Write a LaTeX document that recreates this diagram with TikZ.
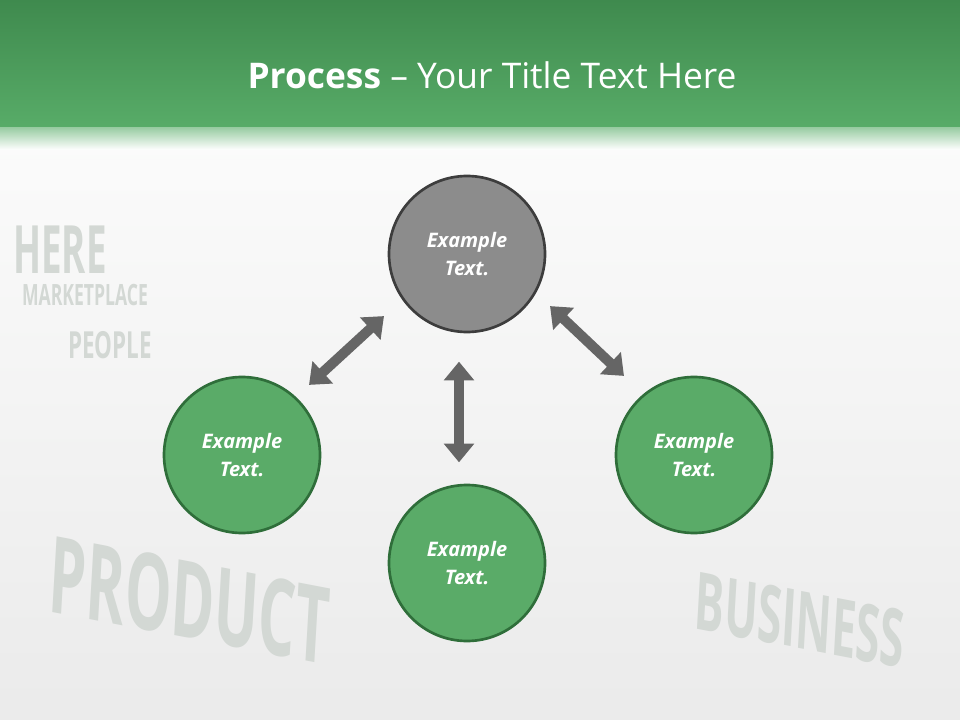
\documentclass[tikz,border=0pt]{standalone}
\usepackage{fontspec}
\setmainfont{Open Sans}
\usetikzlibrary{arrows.meta}
\definecolor{hdrtop}{HTML}{3F8A4E}
\definecolor{hdrbot}{HTML}{58AC68}
\definecolor{cgreen}{HTML}{5AAB68}
\definecolor{cgreenb}{HTML}{2F6E3A}
\definecolor{cgray}{HTML}{8C8C8C}
\definecolor{cgrayb}{HTML}{3D3D3D}
\definecolor{arr}{HTML}{656565}
\definecolor{word}{HTML}{D3D8D4}
\begin{document}
\begin{tikzpicture}[x=0.75pt,y=-0.75pt,
  circ/.style={circle,minimum size=117pt,line width=2pt,font=\bfseries\itshape\fontsize{15}{21}\selectfont,text=white,align=center},
  gcirc/.style={circ,fill=cgreen,draw=cgreenb},
  kcirc/.style={circ,fill=cgray,draw=cgrayb},
  fat/.style={arr,line width=7.5pt,{Triangle[width=22pt,length=14pt]}-{Triangle[width=22pt,length=14pt]},shorten <=-1pt,shorten >=-1pt},
  bw/.style={text=word,font=\bfseries,inner sep=0pt}]
\useasboundingbox (0,0) rectangle (960,720);
\shade[top color=white!97!green!2,bottom color=black!8] (0,0) rectangle (960,720);
% faint background words
\node[bw,font=\bfseries\fontsize{50}{50}\selectfont,xscale=0.55] at (60,250) {HERE};
\node[bw,font=\bfseries\fontsize{28}{28}\selectfont,xscale=0.6] at (110,345) {PEOPLE};
\node[bw,font=\bfseries\fontsize{22}{22}\selectfont,xscale=0.6] at (85,295) {MARKETPLACE};
\node[bw,font=\bfseries\fontsize{60}{60}\selectfont,xscale=0.55,rotate=-6] at (800,620) {BUSINESS};
\node[bw,font=\bfseries\fontsize{80}{80}\selectfont,xscale=0.55,rotate=-6] at (190,600) {PRODUCT};
% header
\shade[top color=hdrtop,bottom color=hdrbot] (0,0) rectangle (960,128);
\shade[top color=hdrbot!60!white,bottom color=white!0] (0,128) rectangle (960,150);
\node[text=white,font=\fontsize{26.5}{30}\selectfont] (title) at (492,75) {\textbf{Process} – Your Title Text Here};
% circles
\node[kcirc] (top) at (467,254) {Example\\Text.};
\node[gcirc] (left) at (242,455) {Example\\Text.};
\node[gcirc] (right) at (694,455) {Example\\Text.};
\node[gcirc] (bottom) at (467,563) {Example\\Text.};
% arrows
\coordinate (a1) at (310,384); \coordinate (a2) at (383,317);
\coordinate (b1) at (551,307); \coordinate (b2) at (623,375);
\coordinate (c1) at (459,363); \coordinate (c2) at (459,461);
\draw[fat] (a1) -- (a2);
\draw[fat] (b1) -- (b2);
\draw[fat] (c1) -- (c2);
\end{tikzpicture}
\end{document}
